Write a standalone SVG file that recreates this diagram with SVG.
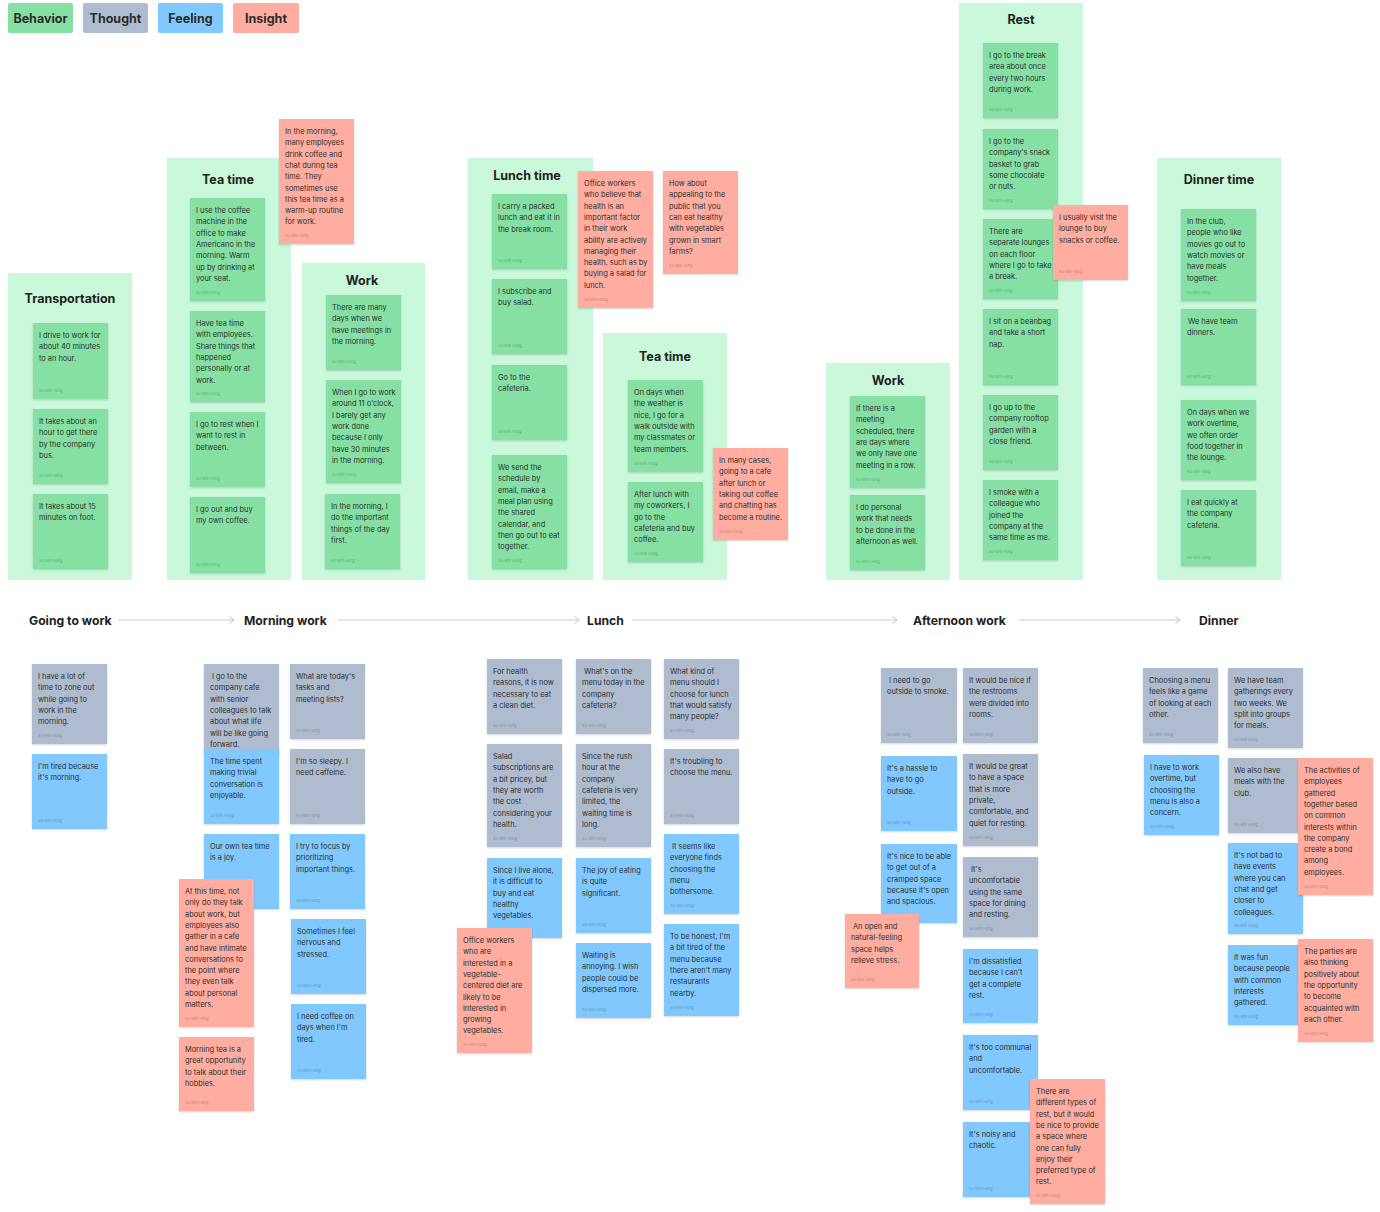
<svg xmlns="http://www.w3.org/2000/svg" width="1380" height="1212" viewBox="0 0 1380 1212">
<style>
.bg{fill:#ffffff}
.c{fill:#c9f8da}
.B{fill:#86e0a3}
.T{fill:#afbcd0}
.F{fill:#80c8fe}
.I{fill:#ffada1}
.n{filter:url(#sh)}
.t{font-family:Inter,"Noto Sans","Liberation Sans",sans-serif;font-size:7.4px;fill:#2d2f2e}
.a{font-family:Inter,"Noto Sans","Liberation Sans",sans-serif;font-size:3.8px;fill:#000;fill-opacity:.3}
.h{font-family:Inter,"Noto Sans","Liberation Sans",sans-serif;font-weight:700;font-size:12.5px;fill:#1f2220;text-anchor:middle}
.l{font-family:Inter,"Noto Sans","Liberation Sans",sans-serif;font-weight:700;font-size:12.2px;fill:#1f2220}
.g{font-family:Inter,"Noto Sans","Liberation Sans",sans-serif;font-weight:700;font-size:12.5px;fill:#2a2d2b;text-anchor:middle}
.ln{stroke:#c8cdd9;stroke-width:1;fill:none}
</style>
<defs>
<filter id="sh" x="-10%" y="-10%" width="120%" height="130%"><feDropShadow dx="0" dy="1" stdDeviation="0.8" flood-color="#000" flood-opacity="0.16"/></filter>
<marker id="ar" markerWidth="8" markerHeight="10" refX="5" refY="4" orient="auto" markerUnits="userSpaceOnUse"><path d="M0.5,0.5 L5,4 L0.5,7.5" fill="none" stroke="#b8bfcc" stroke-width="1"/></marker>
</defs>
<rect class="bg" x="0" y="0" width="1380" height="1212"/>

<g id="legend">
<g id="lg-behavior"><rect class="B" x="8" y="3" width="65" height="30" rx="2"/><text class="g" x="40.5" y="22.5">Behavior</text></g>
<g id="lg-thought"><rect class="T" x="83" y="3" width="65" height="30" rx="2"/><text class="g" x="115.5" y="22.5">Thought</text></g>
<g id="lg-feeling"><rect class="F" x="158" y="3" width="65" height="30" rx="2"/><text class="g" x="190.5" y="22.5">Feeling</text></g>
<g id="lg-insight"><rect class="I" x="233" y="3" width="66" height="30" rx="2"/><text class="g" x="266" y="22.5">Insight</text></g>
</g>

<!-- containers -->
<g id="sec-transportation"><rect class="c" x="8" y="273" width="124" height="307"/><text class="h" x="70" y="303">Transportation</text></g>
<g id="sec-teatime1"><rect class="c" x="167" y="158" width="124" height="422"/><text class="h" x="228" y="184">Tea time</text></g>
<g id="sec-work1"><rect class="c" x="302" y="263" width="123" height="317"/><text class="h" x="362" y="284.5">Work</text></g>
<g id="sec-lunchtime"><rect class="c" x="468" y="158" width="125" height="422"/><text class="h" x="527" y="180">Lunch time</text></g>
<g id="sec-teatime2"><rect class="c" x="603" y="333" width="124" height="247"/><text class="h" x="665" y="360.5">Tea time</text></g>
<g id="sec-work2"><rect class="c" x="826" y="363" width="124" height="217"/><text class="h" x="888" y="384.5">Work</text></g>
<g id="sec-rest"><rect class="c" x="959" y="3" width="124" height="577"/><text class="h" x="1021" y="23.5">Rest</text></g>
<g id="sec-dinnertime"><rect class="c" x="1157" y="158" width="124" height="422"/><text class="h" x="1219" y="184">Dinner time</text></g>

<!-- top notes -->
<g id="tr1"><rect class="B n" x="33" y="323" width="75" height="76"/><text class="t" x="39" y="338"><tspan x="39">I drive to work for</tspan><tspan x="39" dy="11.3">about 40 minutes</tspan><tspan x="39" dy="11.3">to an hour.</tspan></text><text class="a" x="39" y="391.5">Su-Min Hong</text></g>
<g id="tr2"><rect class="B n" x="33" y="409" width="75" height="75"/><text class="t" x="39" y="424"><tspan x="39">It takes about an</tspan><tspan x="39" dy="11.3">hour to get there</tspan><tspan x="39" dy="11.3">by the company</tspan><tspan x="39" dy="11.3">bus.</tspan></text><text class="a" x="39" y="476.5">Su-Min Hong</text></g>
<g id="tr3"><rect class="B n" x="33" y="494" width="75" height="75"/><text class="t" x="39" y="509"><tspan x="39">It takes about 15</tspan><tspan x="39" dy="11.3">minutes on foot.</tspan></text><text class="a" x="39" y="561.5">Su-Min Hong</text></g>

<g id="tt1"><rect class="B n" x="190" y="198" width="75" height="103"/><text class="t" x="196" y="213"><tspan x="196">I use the coffee</tspan><tspan x="196" dy="11.3">machine in the</tspan><tspan x="196" dy="11.3">office to make</tspan><tspan x="196" dy="11.3">Americano in the</tspan><tspan x="196" dy="11.3">morning. Warm</tspan><tspan x="196" dy="11.3">up by drinking at</tspan><tspan x="196" dy="11.3">your seat.</tspan></text><text class="a" x="196" y="293.5">Su-Min Hong</text></g>
<g id="tt2"><rect class="B n" x="190" y="311" width="75" height="91"/><text class="t" x="196" y="326"><tspan x="196">Have tea time</tspan><tspan x="196" dy="11.3">with employees.</tspan><tspan x="196" dy="11.3">Share things that</tspan><tspan x="196" dy="11.3">happened</tspan><tspan x="196" dy="11.3">personally or at</tspan><tspan x="196" dy="11.3">work.</tspan></text><text class="a" x="196" y="394.5">Su-Min Hong</text></g>
<g id="tt3"><rect class="B n" x="190" y="412" width="75" height="75"/><text class="t" x="196" y="427"><tspan x="196">I go to rest when I</tspan><tspan x="196" dy="11.3">want to rest in</tspan><tspan x="196" dy="11.3">between.</tspan></text><text class="a" x="196" y="479.5">Su-Min Hong</text></g>
<g id="tt4"><rect class="B n" x="190" y="497" width="75" height="76"/><text class="t" x="196" y="512"><tspan x="196">I go out and buy</tspan><tspan x="196" dy="11.3">my own coffee.</tspan></text><text class="a" x="196" y="565.5">Su-Min Hong</text></g>
<g id="tt-ins"><rect class="I n" x="279" y="119" width="75" height="125"/><text class="t" x="285" y="134"><tspan x="285">In the morning,</tspan><tspan x="285" dy="11.3">many employees</tspan><tspan x="285" dy="11.3">drink coffee and</tspan><tspan x="285" dy="11.3">chat during tea</tspan><tspan x="285" dy="11.3">time. They</tspan><tspan x="285" dy="11.3">sometimes use</tspan><tspan x="285" dy="11.3">this tea time as a</tspan><tspan x="285" dy="11.3">warm-up routine</tspan><tspan x="285" dy="11.3">for work.</tspan></text><text class="a" x="285" y="236.5">Su-Min Hong</text></g>

<g id="wk1"><rect class="B n" x="326" y="295" width="75" height="75"/><text class="t" x="332" y="310"><tspan x="332">There are many</tspan><tspan x="332" dy="11.3">days when we</tspan><tspan x="332" dy="11.3">have meetings in</tspan><tspan x="332" dy="11.3">the morning.</tspan></text><text class="a" x="332" y="362.5">Su-Min Hong</text></g>
<g id="wk2"><rect class="B n" x="326" y="380" width="75" height="103"/><text class="t" x="332" y="395"><tspan x="332">When I go to work</tspan><tspan x="332" dy="11.3">around 11 o'clock,</tspan><tspan x="332" dy="11.3">I barely get any</tspan><tspan x="332" dy="11.3">work done</tspan><tspan x="332" dy="11.3">because I only</tspan><tspan x="332" dy="11.3">have 30 minutes</tspan><tspan x="332" dy="11.3">in the morning.</tspan></text><text class="a" x="332" y="475.5">Su-Min Hong</text></g>
<g id="wk3"><rect class="B n" x="325" y="494" width="75" height="75"/><text class="t" x="331" y="509"><tspan x="331">In the morning, I</tspan><tspan x="331" dy="11.3">do the important</tspan><tspan x="331" dy="11.3">things of the day</tspan><tspan x="331" dy="11.3">first.</tspan></text><text class="a" x="331" y="561.5">Su-Min Hong</text></g>

<g id="lu1"><rect class="B n" x="492" y="194" width="75" height="75"/><text class="t" x="498" y="209"><tspan x="498">I carry a packed</tspan><tspan x="498" dy="11.3">lunch and eat it in</tspan><tspan x="498" dy="11.3">the break room.</tspan></text><text class="a" x="498" y="261.5">Su-Min Hong</text></g>
<g id="lu2"><rect class="B n" x="492" y="279" width="75" height="75"/><text class="t" x="498" y="294"><tspan x="498">I subscribe and</tspan><tspan x="498" dy="11.3">buy salad.</tspan></text><text class="a" x="498" y="346.5">Su-Min Hong</text></g>
<g id="lu3"><rect class="B n" x="492" y="365" width="75" height="75"/><text class="t" x="498" y="380"><tspan x="498">Go to the</tspan><tspan x="498" dy="11.3">cafeteria.</tspan></text><text class="a" x="498" y="432.5">Su-Min Hong</text></g>
<g id="lu4"><rect class="B n" x="492" y="455" width="75" height="114"/><text class="t" x="498" y="470"><tspan x="498">We send the</tspan><tspan x="498" dy="11.3">schedule by</tspan><tspan x="498" dy="11.3">email, make a</tspan><tspan x="498" dy="11.3">meal plan using</tspan><tspan x="498" dy="11.3">the shared</tspan><tspan x="498" dy="11.3">calendar, and</tspan><tspan x="498" dy="11.3">then go out to eat</tspan><tspan x="498" dy="11.3">together.</tspan></text><text class="a" x="498" y="561.5">Su-Min Hong</text></g>
<g id="lu-ins1"><rect class="I n" x="578" y="171" width="75" height="137"/><text class="t" x="584" y="186"><tspan x="584">Office workers</tspan><tspan x="584" dy="11.3">who believe that</tspan><tspan x="584" dy="11.3">health is an</tspan><tspan x="584" dy="11.3">important factor</tspan><tspan x="584" dy="11.3">in their work</tspan><tspan x="584" dy="11.3">ability are actively</tspan><tspan x="584" dy="11.3">managing their</tspan><tspan x="584" dy="11.3">health, such as by</tspan><tspan x="584" dy="11.3">buying a salad for</tspan><tspan x="584" dy="11.3">lunch.</tspan></text><text class="a" x="584" y="300.5">Su-Min Hong</text></g>
<g id="lu-ins2"><rect class="I n" x="663" y="171" width="75" height="103"/><text class="t" x="669" y="186"><tspan x="669">How about</tspan><tspan x="669" dy="11.3">appealing to the</tspan><tspan x="669" dy="11.3">public that you</tspan><tspan x="669" dy="11.3">can eat healthy</tspan><tspan x="669" dy="11.3">with vegetables</tspan><tspan x="669" dy="11.3">grown in smart</tspan><tspan x="669" dy="11.3">farms?</tspan></text><text class="a" x="669" y="266.5">Su-Min Hong</text></g>

<g id="t21"><rect class="B n" x="628" y="380" width="75" height="92"/><text class="t" x="634" y="395"><tspan x="634">On days when</tspan><tspan x="634" dy="11.3">the weather is</tspan><tspan x="634" dy="11.3">nice, I go for a</tspan><tspan x="634" dy="11.3">walk outside with</tspan><tspan x="634" dy="11.3">my classmates or</tspan><tspan x="634" dy="11.3">team members.</tspan></text><text class="a" x="634" y="464.5">Su-Min Hong</text></g>
<g id="t22"><rect class="B n" x="628" y="482" width="75" height="80"/><text class="t" x="634" y="497"><tspan x="634">After lunch with</tspan><tspan x="634" dy="11.3">my coworkers, I</tspan><tspan x="634" dy="11.3">go to the</tspan><tspan x="634" dy="11.3">cafeteria and buy</tspan><tspan x="634" dy="11.3">coffee.</tspan></text><text class="a" x="634" y="554.5">Su-Min Hong</text></g>
<g id="t2-ins"><rect class="I n" x="713" y="448" width="75" height="92"/><text class="t" x="719" y="463"><tspan x="719">In many cases,</tspan><tspan x="719" dy="11.3">going to a cafe</tspan><tspan x="719" dy="11.3">after lunch or</tspan><tspan x="719" dy="11.3">taking out coffee</tspan><tspan x="719" dy="11.3">and chatting has</tspan><tspan x="719" dy="11.3">become a routine.</tspan></text><text class="a" x="719" y="532.5">Su-Min Hong</text></g>

<g id="w21"><rect class="B n" x="850" y="396" width="75" height="92"/><text class="t" x="856" y="411"><tspan x="856">If there is a</tspan><tspan x="856" dy="11.3">meeting</tspan><tspan x="856" dy="11.3">scheduled, there</tspan><tspan x="856" dy="11.3">are days where</tspan><tspan x="856" dy="11.3">we only have one</tspan><tspan x="856" dy="11.3">meeting in a row.</tspan></text><text class="a" x="856" y="480.5">Su-Min Hong</text></g>
<g id="w22"><rect class="B n" x="850" y="495" width="75" height="75"/><text class="t" x="856" y="510"><tspan x="856">I do personal</tspan><tspan x="856" dy="11.3">work that needs</tspan><tspan x="856" dy="11.3">to be done in the</tspan><tspan x="856" dy="11.3">afternoon as well.</tspan></text><text class="a" x="856" y="562.5">Su-Min Hong</text></g>

<g id="re1"><rect class="B n" x="983" y="43" width="75" height="75"/><text class="t" x="989" y="58"><tspan x="989">I go to the break</tspan><tspan x="989" dy="11.3">area about once</tspan><tspan x="989" dy="11.3">every two hours</tspan><tspan x="989" dy="11.3">during work.</tspan></text><text class="a" x="989" y="110.5">Su-Min Hong</text></g>
<g id="re2"><rect class="B n" x="983" y="129" width="75" height="80"/><text class="t" x="989" y="144"><tspan x="989">I go to the</tspan><tspan x="989" dy="11.3">company's snack</tspan><tspan x="989" dy="11.3">basket to grab</tspan><tspan x="989" dy="11.3">some chocolate</tspan><tspan x="989" dy="11.3">or nuts.</tspan></text><text class="a" x="989" y="201.5">Su-Min Hong</text></g>
<g id="re3"><rect class="B n" x="983" y="219" width="75" height="80"/><text class="t" x="989" y="234"><tspan x="989">There are</tspan><tspan x="989" dy="11.3">separate lounges</tspan><tspan x="989" dy="11.3">on each floor</tspan><tspan x="989" dy="11.3">where I go to take</tspan><tspan x="989" dy="11.3">a break.</tspan></text><text class="a" x="989" y="291.5">Su-Min Hong</text></g>
<g id="re4"><rect class="B n" x="983" y="309" width="75" height="76"/><text class="t" x="989" y="324"><tspan x="989">I sit on a beanbag</tspan><tspan x="989" dy="11.3">and take a short</tspan><tspan x="989" dy="11.3">nap.</tspan></text><text class="a" x="989" y="377.5">Su-Min Hong</text></g>
<g id="re5"><rect class="B n" x="983" y="395" width="75" height="75"/><text class="t" x="989" y="410"><tspan x="989">I go up to the</tspan><tspan x="989" dy="11.3">company rooftop</tspan><tspan x="989" dy="11.3">garden with a</tspan><tspan x="989" dy="11.3">close friend.</tspan></text><text class="a" x="989" y="462.5">Su-Min Hong</text></g>
<g id="re6"><rect class="B n" x="983" y="480" width="75" height="80"/><text class="t" x="989" y="495"><tspan x="989">I smoke with a</tspan><tspan x="989" dy="11.3">colleague who</tspan><tspan x="989" dy="11.3">joined the</tspan><tspan x="989" dy="11.3">company at the</tspan><tspan x="989" dy="11.3">same time as me.</tspan></text><text class="a" x="989" y="552.5">Su-Min Hong</text></g>
<g id="re-ins"><rect class="I n" x="1053" y="205" width="75" height="75"/><text class="t" x="1059" y="220"><tspan x="1059">I usually visit the</tspan><tspan x="1059" dy="11.3">lounge to buy</tspan><tspan x="1059" dy="11.3">snacks or coffee.</tspan></text><text class="a" x="1059" y="272.5">Su-Min Hong</text></g>

<g id="di1"><rect class="B n" x="1181" y="209" width="75" height="92"/><text class="t" x="1187" y="224"><tspan x="1187">In the club,</tspan><tspan x="1187" dy="11.3">people who like</tspan><tspan x="1187" dy="11.3">movies go out to</tspan><tspan x="1187" dy="11.3">watch movies or</tspan><tspan x="1187" dy="11.3">have meals</tspan><tspan x="1187" dy="11.3">together.</tspan></text><text class="a" x="1187" y="293.5">Su-Min Hong</text></g>
<g id="di2"><rect class="B n" x="1181" y="309" width="75" height="76"/><text class="t" x="1188" y="324"><tspan x="1188">We have team</tspan><tspan x="1187" dy="11.3">dinners.</tspan></text><text class="a" x="1187" y="377.5">Su-Min Hong</text></g>
<g id="di3"><rect class="B n" x="1181" y="400" width="75" height="80"/><text class="t" x="1187" y="415"><tspan x="1187">On days when we</tspan><tspan x="1187" dy="11.3">work overtime,</tspan><tspan x="1187" dy="11.3">we often order</tspan><tspan x="1187" dy="11.3">food together in</tspan><tspan x="1187" dy="11.3">the lounge.</tspan></text><text class="a" x="1187" y="472.5">Su-Min Hong</text></g>
<g id="di4"><rect class="B n" x="1181" y="490" width="75" height="76"/><text class="t" x="1187" y="505"><tspan x="1187">I eat quickly at</tspan><tspan x="1187" dy="11.3">the company</tspan><tspan x="1187" dy="11.3">cafeteria.</tspan></text><text class="a" x="1187" y="558.5">Su-Min Hong</text></g>

<!-- timeline -->
<g id="connectors">
<line class="ln" x1="118" y1="620" x2="234" y2="620" marker-end="url(#ar)"/>
<line class="ln" x1="338" y1="620" x2="579" y2="620" marker-end="url(#ar)"/>
<line class="ln" x1="632" y1="620" x2="897" y2="620" marker-end="url(#ar)"/>
<line class="ln" x1="1019" y1="620" x2="1180" y2="620" marker-end="url(#ar)"/>
</g>
<g id="stage-going"><text class="l" x="29" y="624.5">Going to work</text></g>
<g id="stage-morning"><text class="l" x="244" y="624.5">Morning work</text></g>
<g id="stage-lunch"><text class="l" x="587" y="624.5">Lunch</text></g>
<g id="stage-afternoon"><text class="l" x="913" y="624.5">Afternoon work</text></g>
<g id="stage-dinner"><text class="l" x="1199" y="624.5">Dinner</text></g>

<!-- bottom: going to work -->
<g id="gw-t1"><rect class="T n" x="32" y="664" width="75" height="80"/><text class="t" x="38" y="679"><tspan x="38">I have a lot of</tspan><tspan x="38" dy="11.3">time to zone out</tspan><tspan x="38" dy="11.3">while going to</tspan><tspan x="38" dy="11.3">work in the</tspan><tspan x="38" dy="11.3">morning.</tspan></text><text class="a" x="38" y="736.5">Su-Min Hong</text></g>
<g id="gw-f1"><rect class="F n" x="32" y="754" width="75" height="75"/><text class="t" x="38" y="769"><tspan x="38">I'm tired because</tspan><tspan x="38" dy="11.3">it's morning.</tspan></text><text class="a" x="38" y="821.5">Su-Min Hong</text></g>

<!-- morning work -->
<g id="mw-t1"><rect class="T n" x="204" y="664" width="75" height="92"/><text class="t" x="210" y="679"><tspan x="212">I go to the</tspan><tspan x="210" dy="11.3">company cafe</tspan><tspan x="210" dy="11.3">with senior</tspan><tspan x="210" dy="11.3">colleagues to talk</tspan><tspan x="210" dy="11.3">about what life</tspan><tspan x="210" dy="11.3">will be like going</tspan><tspan x="210" dy="11.3">forward.</tspan></text></g>
<g id="mw-f1"><rect class="F n" x="204" y="749" width="75" height="75"/><text class="t" x="210" y="764"><tspan x="210">The time spent</tspan><tspan x="210" dy="11.3">making trivial</tspan><tspan x="210" dy="11.3">conversation is</tspan><tspan x="210" dy="11.3">enjoyable.</tspan></text><text class="a" x="210" y="816.5">Su-Min Hong</text></g>
<g id="mw-f2"><rect class="F n" x="204" y="834" width="75" height="75"/><text class="t" x="210" y="849"><tspan x="210">Our own tea time</tspan><tspan x="210" dy="11.3">is a joy.</tspan></text></g>
<g id="mw-t2"><rect class="T n" x="290" y="664" width="75" height="75"/><text class="t" x="296" y="679"><tspan x="296">What are today's</tspan><tspan x="296" dy="11.3">tasks and</tspan><tspan x="296" dy="11.3">meeting lists?</tspan></text><text class="a" x="296" y="731.5">Su-Min Hong</text></g>
<g id="mw-t3"><rect class="T n" x="290" y="749" width="75" height="75"/><text class="t" x="296" y="764"><tspan x="296">I'm so sleepy. I</tspan><tspan x="296" dy="11.3">need caffeine.</tspan></text><text class="a" x="296" y="816.5">Su-Min Hong</text></g>
<g id="mw-f3"><rect class="F n" x="290" y="834" width="75" height="75"/><text class="t" x="296" y="849"><tspan x="296">I try to focus by</tspan><tspan x="296" dy="11.3">prioritizing</tspan><tspan x="296" dy="11.3">important things.</tspan></text><text class="a" x="296" y="901.5">Su-Min Hong</text></g>
<g id="mw-f4"><rect class="F n" x="291" y="919" width="75" height="75"/><text class="t" x="297" y="934"><tspan x="297">Sometimes I feel</tspan><tspan x="297" dy="11.3">nervous and</tspan><tspan x="297" dy="11.3">stressed.</tspan></text><text class="a" x="297" y="986.5">Su-Min Hong</text></g>
<g id="mw-f5"><rect class="F n" x="291" y="1004" width="75" height="75"/><text class="t" x="297" y="1019"><tspan x="297">I need coffee on</tspan><tspan x="297" dy="11.3">days when I'm</tspan><tspan x="297" dy="11.3">tired.</tspan></text><text class="a" x="297" y="1071.5">Su-Min Hong</text></g>
<g id="mw-i1"><rect class="I n" x="179" y="879" width="75" height="148"/><text class="t" x="185" y="894"><tspan x="185">At this time, not</tspan><tspan x="185" dy="11.3">only do they talk</tspan><tspan x="185" dy="11.3">about work, but</tspan><tspan x="185" dy="11.3">employees also</tspan><tspan x="185" dy="11.3">gather in a cafe</tspan><tspan x="185" dy="11.3">and have intimate</tspan><tspan x="185" dy="11.3">conversations to</tspan><tspan x="185" dy="11.3">the point where</tspan><tspan x="185" dy="11.3">they even talk</tspan><tspan x="185" dy="11.3">about personal</tspan><tspan x="185" dy="11.3">matters.</tspan></text><text class="a" x="185" y="1019.5">Su-Min Hong</text></g>
<g id="mw-i2"><rect class="I n" x="179" y="1037" width="75" height="74"/><text class="t" x="185" y="1052"><tspan x="185">Morning tea is a</tspan><tspan x="185" dy="11.3">great opportunity</tspan><tspan x="185" dy="11.3">to talk about their</tspan><tspan x="185" dy="11.3">hobbies.</tspan></text><text class="a" x="185" y="1103.5">Su-Min Hong</text></g>

<!-- lunch -->
<g id="lc-t1"><rect class="T n" x="487" y="659" width="75" height="75"/><text class="t" x="493" y="674"><tspan x="493">For health</tspan><tspan x="493" dy="11.3">reasons, it is now</tspan><tspan x="493" dy="11.3">necessary to eat</tspan><tspan x="493" dy="11.3">a clean diet.</tspan></text><text class="a" x="493" y="726.5">Su-Min Hong</text></g>
<g id="lc-t2"><rect class="T n" x="487" y="744" width="75" height="103"/><text class="t" x="493" y="759"><tspan x="493">Salad</tspan><tspan x="493" dy="11.3">subscriptions are</tspan><tspan x="493" dy="11.3">a bit pricey, but</tspan><tspan x="493" dy="11.3">they are worth</tspan><tspan x="493" dy="11.3">the cost</tspan><tspan x="493" dy="11.3">considering your</tspan><tspan x="493" dy="11.3">health.</tspan></text><text class="a" x="493" y="839.5">Su-Min Hong</text></g>
<g id="lc-f1"><rect class="F n" x="487" y="858" width="75" height="80"/><text class="t" x="493" y="873"><tspan x="493">Since I live alone,</tspan><tspan x="493" dy="11.3">it is difficult to</tspan><tspan x="493" dy="11.3">buy and eat</tspan><tspan x="493" dy="11.3">healthy</tspan><tspan x="493" dy="11.3">vegetables.</tspan></text></g>
<g id="lc-t3"><rect class="T n" x="576" y="659" width="75" height="75"/><text class="t" x="582" y="674"><tspan x="584">What's on the</tspan><tspan x="582" dy="11.3">menu today in the</tspan><tspan x="582" dy="11.3">company</tspan><tspan x="582" dy="11.3">cafeteria?</tspan></text><text class="a" x="582" y="726.5">Su-Min Hong</text></g>
<g id="lc-t4"><rect class="T n" x="576" y="744" width="75" height="103"/><text class="t" x="582" y="759"><tspan x="582">Since the rush</tspan><tspan x="582" dy="11.3">hour at the</tspan><tspan x="582" dy="11.3">company</tspan><tspan x="582" dy="11.3">cafeteria is very</tspan><tspan x="582" dy="11.3">limited, the</tspan><tspan x="582" dy="11.3">waiting time is</tspan><tspan x="582" dy="11.3">long.</tspan></text><text class="a" x="582" y="839.5">Su-Min Hong</text></g>
<g id="lc-f2"><rect class="F n" x="576" y="858" width="75" height="75"/><text class="t" x="582" y="873"><tspan x="582">The joy of eating</tspan><tspan x="582" dy="11.3">is quite</tspan><tspan x="582" dy="11.3">significant.</tspan></text><text class="a" x="582" y="925.5">Su-Min Hong</text></g>
<g id="lc-f3"><rect class="F n" x="576" y="943" width="75" height="75"/><text class="t" x="582" y="958"><tspan x="582">Waiting is</tspan><tspan x="582" dy="11.3">annoying. I wish</tspan><tspan x="582" dy="11.3">people could be</tspan><tspan x="582" dy="11.3">dispersed more.</tspan></text><text class="a" x="582" y="1010.5">Su-Min Hong</text></g>
<g id="lc-t5"><rect class="T n" x="664" y="659" width="75" height="80"/><text class="t" x="670" y="674"><tspan x="670">What kind of</tspan><tspan x="670" dy="11.3">menu should I</tspan><tspan x="670" dy="11.3">choose for lunch</tspan><tspan x="670" dy="11.3">that would satisfy</tspan><tspan x="670" dy="11.3">many people?</tspan></text><text class="a" x="670" y="731.5">Su-Min Hong</text></g>
<g id="lc-t6"><rect class="T n" x="664" y="749" width="75" height="75"/><text class="t" x="670" y="764"><tspan x="670">It's troubling to</tspan><tspan x="670" dy="11.3">choose the menu.</tspan></text><text class="a" x="670" y="816.5">Su-Min Hong</text></g>
<g id="lc-f4"><rect class="F n" x="664" y="834" width="75" height="80"/><text class="t" x="670" y="849"><tspan x="672">It seems like</tspan><tspan x="670" dy="11.3">everyone finds</tspan><tspan x="670" dy="11.3">choosing the</tspan><tspan x="670" dy="11.3">menu</tspan><tspan x="670" dy="11.3">bothersome.</tspan></text><text class="a" x="670" y="906.5">Su-Min Hong</text></g>
<g id="lc-f5"><rect class="F n" x="664" y="924" width="75" height="92"/><text class="t" x="670" y="939"><tspan x="670">To be honest, I'm</tspan><tspan x="670" dy="11.3">a bit tired of the</tspan><tspan x="670" dy="11.3">menu because</tspan><tspan x="670" dy="11.3">there aren't many</tspan><tspan x="670" dy="11.3">restaurants</tspan><tspan x="670" dy="11.3">nearby.</tspan></text><text class="a" x="670" y="1008.5">Su-Min Hong</text></g>
<g id="lc-i1"><rect class="I n" x="457" y="928" width="75" height="125"/><text class="t" x="463" y="943"><tspan x="463">Office workers</tspan><tspan x="463" dy="11.3">who are</tspan><tspan x="463" dy="11.3">interested in a</tspan><tspan x="463" dy="11.3">vegetable-</tspan><tspan x="463" dy="11.3">centered diet are</tspan><tspan x="463" dy="11.3">likely to be</tspan><tspan x="463" dy="11.3">interested in</tspan><tspan x="463" dy="11.3">growing</tspan><tspan x="463" dy="11.3">vegetables.</tspan></text><text class="a" x="463" y="1045.5">Su-Min Hong</text></g>

<!-- afternoon work -->
<g id="aw-t1"><rect class="T n" x="881" y="668" width="76" height="75"/><text class="t" x="887" y="683"><tspan x="889">I need to go</tspan><tspan x="887" dy="11.3">outside to smoke.</tspan></text><text class="a" x="887" y="735.5">Su-Min Hong</text></g>
<g id="aw-f1"><rect class="F n" x="881" y="756" width="76" height="75"/><text class="t" x="887" y="771"><tspan x="887">It's a hassle to</tspan><tspan x="887" dy="11.3">have to go</tspan><tspan x="887" dy="11.3">outside.</tspan></text><text class="a" x="887" y="823.5">Su-Min Hong</text></g>
<g id="aw-f2"><rect class="F n" x="881" y="844" width="76" height="79"/><text class="t" x="887" y="859"><tspan x="887">It's nice to be able</tspan><tspan x="887" dy="11.3">to get out of a</tspan><tspan x="887" dy="11.3">cramped space</tspan><tspan x="887" dy="11.3">because it's open</tspan><tspan x="887" dy="11.3">and spacious.</tspan></text></g>
<g id="aw-i1"><rect class="I n" x="845" y="914" width="74" height="74"/><text class="t" x="851" y="929"><tspan x="853">An open and</tspan><tspan x="851" dy="11.3">natural-feeling</tspan><tspan x="851" dy="11.3">space helps</tspan><tspan x="851" dy="11.3">relieve stress.</tspan></text><text class="a" x="851" y="980.5">Su-Min Hong</text></g>
<g id="aw-t2"><rect class="T n" x="963" y="668" width="75" height="75"/><text class="t" x="969" y="683"><tspan x="969">It would be nice if</tspan><tspan x="969" dy="11.3">the restrooms</tspan><tspan x="969" dy="11.3">were divided into</tspan><tspan x="969" dy="11.3">rooms.</tspan></text><text class="a" x="969" y="735.5">Su-Min Hong</text></g>
<g id="aw-t3"><rect class="T n" x="963" y="754" width="75" height="92"/><text class="t" x="969" y="769"><tspan x="969">It would be great</tspan><tspan x="969" dy="11.3">to have a space</tspan><tspan x="969" dy="11.3">that is more</tspan><tspan x="969" dy="11.3">private,</tspan><tspan x="969" dy="11.3">comfortable, and</tspan><tspan x="969" dy="11.3">quiet for resting.</tspan></text><text class="a" x="969" y="838.5">Su-Min Hong</text></g>
<g id="aw-t4"><rect class="T n" x="963" y="857" width="75" height="80"/><text class="t" x="969" y="872"><tspan x="971">It's</tspan><tspan x="969" dy="11.3">uncomfortable</tspan><tspan x="969" dy="11.3">using the same</tspan><tspan x="969" dy="11.3">space for dining</tspan><tspan x="969" dy="11.3">and resting.</tspan></text><text class="a" x="969" y="929.5">Su-Min Hong</text></g>
<g id="aw-f3"><rect class="F n" x="963" y="949" width="75" height="74"/><text class="t" x="969" y="964"><tspan x="969">I'm dissatisfied</tspan><tspan x="969" dy="11.3">because I can't</tspan><tspan x="969" dy="11.3">get a complete</tspan><tspan x="969" dy="11.3">rest.</tspan></text><text class="a" x="969" y="1015.5">Su-Min Hong</text></g>
<g id="aw-f4"><rect class="F n" x="963" y="1035" width="75" height="75"/><text class="t" x="969" y="1050"><tspan x="969">It's too communal</tspan><tspan x="969" dy="11.3">and</tspan><tspan x="969" dy="11.3">uncomfortable.</tspan></text><text class="a" x="969" y="1102.5">Su-Min Hong</text></g>
<g id="aw-f5"><rect class="F n" x="963" y="1122" width="75" height="75"/><text class="t" x="969" y="1137"><tspan x="969">It's noisy and</tspan><tspan x="969" dy="11.3">chaotic.</tspan></text><text class="a" x="969" y="1189.5">Su-Min Hong</text></g>
<g id="aw-i2"><rect class="I n" x="1030" y="1079" width="75" height="125"/><text class="t" x="1036" y="1094"><tspan x="1036">There are</tspan><tspan x="1036" dy="11.3">different types of</tspan><tspan x="1036" dy="11.3">rest, but it would</tspan><tspan x="1036" dy="11.3">be nice to provide</tspan><tspan x="1036" dy="11.3">a space where</tspan><tspan x="1036" dy="11.3">one can fully</tspan><tspan x="1036" dy="11.3">enjoy their</tspan><tspan x="1036" dy="11.3">preferred type of</tspan><tspan x="1036" dy="11.3">rest.</tspan></text><text class="a" x="1036" y="1196.5">Su-Min Hong</text></g>

<!-- dinner -->
<g id="dn-t1"><rect class="T n" x="1143" y="668" width="75" height="75"/><text class="t" x="1149" y="683"><tspan x="1149">Choosing a menu</tspan><tspan x="1149" dy="11.3">feels like a game</tspan><tspan x="1149" dy="11.3">of looking at each</tspan><tspan x="1149" dy="11.3">other.</tspan></text><text class="a" x="1149" y="735.5">Su-Min Hong</text></g>
<g id="dn-f1"><rect class="F n" x="1144" y="755" width="75" height="80"/><text class="t" x="1150" y="770"><tspan x="1150">I have to work</tspan><tspan x="1150" dy="11.3">overtime, but</tspan><tspan x="1150" dy="11.3">choosing the</tspan><tspan x="1150" dy="11.3">menu is also a</tspan><tspan x="1150" dy="11.3">concern.</tspan></text><text class="a" x="1150" y="827.5">Su-Min Hong</text></g>
<g id="dn-t2"><rect class="T n" x="1228" y="668" width="75" height="80"/><text class="t" x="1234" y="683"><tspan x="1234">We have team</tspan><tspan x="1234" dy="11.3">gatherings every</tspan><tspan x="1234" dy="11.3">two weeks. We</tspan><tspan x="1234" dy="11.3">split into groups</tspan><tspan x="1234" dy="11.3">for meals.</tspan></text><text class="a" x="1234" y="740.5">Su-Min Hong</text></g>
<g id="dn-t3"><rect class="T n" x="1228" y="758" width="75" height="75"/><text class="t" x="1234" y="773"><tspan x="1234">We also have</tspan><tspan x="1234" dy="11.3">meals with the</tspan><tspan x="1234" dy="11.3">club.</tspan></text><text class="a" x="1234" y="825.5">Su-Min Hong</text></g>
<g id="dn-f2"><rect class="F n" x="1228" y="843" width="75" height="91"/><text class="t" x="1234" y="858"><tspan x="1234">It's not bad to</tspan><tspan x="1234" dy="11.3">have events</tspan><tspan x="1234" dy="11.3">where you can</tspan><tspan x="1234" dy="11.3">chat and get</tspan><tspan x="1234" dy="11.3">closer to</tspan><tspan x="1234" dy="11.3">colleagues.</tspan></text><text class="a" x="1234" y="926.5">Su-Min Hong</text></g>
<g id="dn-f3"><rect class="F n" x="1228" y="945" width="75" height="80"/><text class="t" x="1234" y="960"><tspan x="1234">It was fun</tspan><tspan x="1234" dy="11.3">because people</tspan><tspan x="1234" dy="11.3">with common</tspan><tspan x="1234" dy="11.3">interests</tspan><tspan x="1234" dy="11.3">gathered.</tspan></text><text class="a" x="1234" y="1017.5">Su-Min Hong</text></g>
<g id="dn-i1"><rect class="I n" x="1298" y="758" width="75" height="137"/><text class="t" x="1304" y="773"><tspan x="1304">The activities of</tspan><tspan x="1304" dy="11.3">employees</tspan><tspan x="1304" dy="11.3">gathered</tspan><tspan x="1304" dy="11.3">together based</tspan><tspan x="1304" dy="11.3">on common</tspan><tspan x="1304" dy="11.3">interests within</tspan><tspan x="1304" dy="11.3">the company</tspan><tspan x="1304" dy="11.3">create a bond</tspan><tspan x="1304" dy="11.3">among</tspan><tspan x="1304" dy="11.3">employees.</tspan></text><text class="a" x="1304" y="887.5">Su-Min Hong</text></g>
<g id="dn-i2"><rect class="I n" x="1298" y="939" width="75" height="103"/><text class="t" x="1304" y="954"><tspan x="1304">The parties are</tspan><tspan x="1304" dy="11.3">also thinking</tspan><tspan x="1304" dy="11.3">positively about</tspan><tspan x="1304" dy="11.3">the opportunity</tspan><tspan x="1304" dy="11.3">to become</tspan><tspan x="1304" dy="11.3">acquainted with</tspan><tspan x="1304" dy="11.3">each other.</tspan></text><text class="a" x="1304" y="1034.5">Su-Min Hong</text></g>
</svg>
